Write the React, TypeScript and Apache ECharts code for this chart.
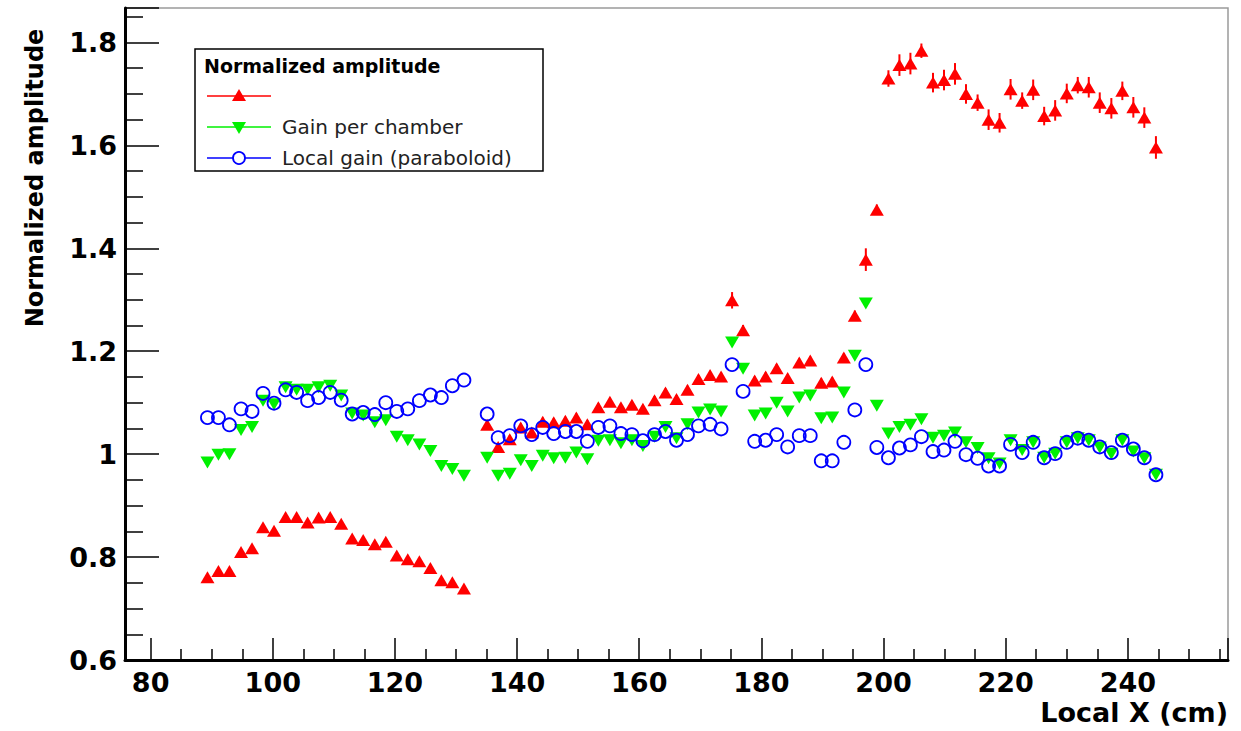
import React, { useEffect, useRef } from 'react';
import * as echarts from 'echarts';

// x positions (cm) of the measurement points
const localX = [
  89.3, 91.1, 92.9, 94.8, 96.6, 98.4, 100.2, 102.1, 103.9, 105.7, 107.5, 109.4,
  111.2, 113.0, 114.8, 116.7, 118.5, 120.3, 122.1, 124.0, 125.8, 127.6, 129.4, 131.3,
  135.1, 136.9, 138.8, 140.6, 142.4, 144.2, 146.0, 147.9, 149.7, 151.5, 153.3, 155.2,
  157.0, 158.8, 160.6, 162.5, 164.3, 166.1, 167.9, 169.7, 171.6, 173.4, 175.2, 177.0,
  178.9, 180.7, 182.5, 184.3, 186.2, 188.0, 189.8, 191.6, 193.5, 195.3, 197.1, 198.9,
  200.8, 202.6, 204.4, 206.2, 208.1, 209.9, 211.7, 213.5, 215.4, 217.2, 219.0, 220.8,
  222.7, 224.5, 226.3, 228.1, 230.0, 231.8, 233.6, 235.4, 237.3, 239.1, 240.9, 242.7, 244.6,
];

// red up-triangles (unnamed entry)
const rawAmplitude = [
  0.761, 0.773, 0.773, 0.810, 0.817, 0.858, 0.851, 0.878, 0.878, 0.867, 0.877, 0.878,
  0.865, 0.836, 0.833, 0.825, 0.830, 0.803, 0.796, 0.792, 0.779, 0.755, 0.751, 0.739,
  1.057, 1.014, 1.029, 1.052, 1.042, 1.063, 1.062, 1.065, 1.071, 1.058, 1.091, 1.102,
  1.091, 1.096, 1.088, 1.105, 1.120, 1.107, 1.125, 1.146, 1.154, 1.151, 1.299, 1.241,
  1.143, 1.151, 1.167, 1.148, 1.178, 1.182, 1.139, 1.141, 1.188, 1.269, 1.378, 1.475,
  1.730, 1.756, 1.759, 1.784, 1.722, 1.727, 1.739, 1.700, 1.683, 1.650, 1.644, 1.709,
  1.687, 1.708, 1.657, 1.668, 1.701, 1.717, 1.713, 1.683, 1.672, 1.706, 1.674, 1.654, 1.596,
];
const rawAmplitudeErr = [
  0.006, 0.006, 0.006, 0.006, 0.006, 0.006, 0.006, 0.006, 0.006, 0.006, 0.006, 0.006,
  0.006, 0.006, 0.006, 0.006, 0.006, 0.006, 0.006, 0.006, 0.006, 0.006, 0.006, 0.006,
  0.008, 0.008, 0.008, 0.008, 0.008, 0.008, 0.008, 0.008, 0.008, 0.008, 0.008, 0.008,
  0.008, 0.008, 0.008, 0.008, 0.008, 0.008, 0.008, 0.008, 0.008, 0.008, 0.016, 0.010,
  0.008, 0.008, 0.008, 0.008, 0.008, 0.008, 0.008, 0.008, 0.008, 0.010, 0.022, 0.010,
  0.016, 0.021, 0.021, 0.014, 0.019, 0.020, 0.021, 0.019, 0.016, 0.020, 0.019, 0.020,
  0.016, 0.020, 0.018, 0.020, 0.019, 0.016, 0.020, 0.020, 0.020, 0.018, 0.020, 0.020, 0.022,
];

// green down-triangles
const gainPerChamber = [
  0.984, 0.999, 1.000, 1.047, 1.053, 1.104, 1.097, 1.130, 1.125, 1.125, 1.130, 1.133,
  1.114, 1.079, 1.075, 1.062, 1.066, 1.034, 1.027, 1.019, 1.006, 0.977, 0.971, 0.958,
  0.993, 0.958, 0.962, 0.988, 0.977, 0.997, 0.992, 0.993, 1.003, 0.990, 1.026, 1.027,
  1.021, 1.027, 1.016, 1.034, 1.053, 1.031, 1.058, 1.081, 1.087, 1.083, 1.217, 1.166,
  1.075, 1.079, 1.100, 1.083, 1.110, 1.114, 1.070, 1.071, 1.120, 1.191, 1.293, 1.094,
  1.040, 1.053, 1.057, 1.068, 1.032, 1.036, 1.042, 1.023, 1.012, 0.992, 0.982, 1.027,
  1.008, 1.023, 0.993, 1.001, 1.023, 1.031, 1.027, 1.013, 1.001, 1.027, 1.005, 0.992, 0.960,
];

// blue open circles
const localGain = [
  1.071, 1.071, 1.057, 1.088, 1.083, 1.118, 1.099, 1.125, 1.120, 1.104, 1.110, 1.120,
  1.105, 1.078, 1.081, 1.077, 1.100, 1.083, 1.088, 1.104, 1.115, 1.110, 1.133, 1.144,
  1.078, 1.032, 1.036, 1.055, 1.038, 1.052, 1.040, 1.044, 1.044, 1.025, 1.052, 1.055,
  1.040, 1.038, 1.026, 1.038, 1.044, 1.027, 1.038, 1.055, 1.058, 1.049, 1.174, 1.122,
  1.025, 1.027, 1.038, 1.014, 1.036, 1.036, 0.987, 0.987, 1.023, 1.086, 1.174, 1.013,
  0.993, 1.012, 1.018, 1.034, 1.005, 1.008, 1.025, 0.999, 0.992, 0.977, 0.977, 1.019,
  1.003, 1.023, 0.993, 1.001, 1.023, 1.031, 1.027, 1.014, 1.003, 1.027, 1.010, 0.993, 0.960,
];

const xTickLabels = [80, 100, 120, 140, 160, 180, 200, 220, 240];
const yTickLabels = ['0.6', '0.8', '1', '1.2', '1.4', '1.6', '1.8'];
const legendTitle = 'Normalized amplitude';
const legendNames = ['', 'Gain per chamber', 'Local gain (paraboloid)'];
const xTitle = 'Local X (cm)';
const yTitle = 'Normalized amplitude';

const X_MIN = 75.8;
const X_MAX = 256.4;
const Y_MIN = 0.6;
const Y_MAX = 1.867;

const W = 1241;
const H = 731;
const GRID_LEFT = 125;
const GRID_RIGHT = 13;
const GRID_TOP = 8;
const GRID_BOTTOM = 71;

const FONT = '"DejaVu Sans", "Liberation Sans", Arial, sans-serif';

export default function App() {
  const ref = useRef<HTMLDivElement>(null);

  useEffect(() => {
    if (!ref.current) return;
    const chart = echarts.init(ref.current, undefined, { renderer: 'svg' });

    const pxPerUnit = (W - GRID_LEFT - GRID_RIGHT) / (X_MAX - X_MIN);
    const labelGridLeft = GRID_LEFT + (xTickLabels[0] - X_MIN) * pxPerUnit;

    const pts = (ys: number[]) => localX.map((x, i) => [x, ys[i]]);
    const redBars = localX.map((x, i) => [x, rawAmplitude[i] - rawAmplitudeErr[i], rawAmplitude[i] + rawAmplitudeErr[i]]);

    const lx0 = 207, lx1 = 271, lmx = 239;
    const rowY = [96, 127, 158];

    const option: any = {
      animation: false,
      backgroundColor: '#ffffff',
      grid: [
        { left: GRID_LEFT, right: GRID_RIGHT, top: GRID_TOP, bottom: GRID_BOTTOM, show: true, borderColor: '#9a9a9a', borderWidth: 1.5, backgroundColor: 'transparent', containLabel: false, outerBoundsMode: 'none' },
        { left: labelGridLeft, right: GRID_RIGHT, top: GRID_TOP, bottom: GRID_BOTTOM, show: false, containLabel: false, outerBoundsMode: 'none' },
      ],
      xAxis: [
        {
          type: 'value', gridIndex: 0, min: X_MIN, max: X_MAX,
          axisLine: { show: true, lineStyle: { color: '#000', width: 3 } },
          axisTick: { show: false }, axisLabel: { show: false }, splitLine: { show: false },
        },
        {
          type: 'value', gridIndex: 1, min: xTickLabels[0], max: X_MAX, interval: 20,
          axisLine: { show: false },
          axisTick: { show: true, inside: true, length: 22, lineStyle: { color: '#000', width: 1.5 } },
          minorTick: { show: true, splitNumber: 4, length: 11, lineStyle: { color: '#000', width: 1.5 } },
          axisLabel: {
            show: true, margin: 8, fontFamily: FONT, fontWeight: 'bold', fontSize: 27, lineHeight: 28, color: '#000',
            showMaxLabel: false,
            formatter: (v: number) => (xTickLabels.includes(Math.round(v)) && Math.abs(v - Math.round(v)) < 1e-6 ? String(Math.round(v)) : ''),
          },
          splitLine: { show: false },
        },
      ],
      yAxis: [
        {
          type: 'value', gridIndex: 0, min: Y_MIN, max: Y_MAX, interval: 0.2,
          axisLine: { show: true, lineStyle: { color: '#000', width: 3 } },
          axisTick: { show: true, inside: true, length: 34, lineStyle: { color: '#000', width: 1.5 } },
          minorTick: { show: true, splitNumber: 4, length: 18, lineStyle: { color: '#000', width: 1.5 } },
          axisLabel: {
            show: true, margin: 8, fontFamily: FONT, fontWeight: 'bold', fontSize: 27, color: '#000',
            showMaxLabel: false,
            formatter: (v: number) => {
              const s = String(Number(v.toFixed(2)));
              return yTickLabels.includes(s) ? s : '';
            },
          },
          splitLine: { show: false },
        },
        { type: 'value', gridIndex: 1, min: 0, max: 1, show: false },
      ],
      series: [
        {
          type: 'custom', xAxisIndex: 0, yAxisIndex: 0, z: 2,
          data: redBars,
          encode: { x: 0, y: [1, 2] },
          renderItem: (params: any, api: any) => {
            const x = api.value(0);
            const p1 = api.coord([x, api.value(1)]);
            const p2 = api.coord([x, api.value(2)]);
            return { type: 'line', shape: { x1: p1[0], y1: p1[1], x2: p2[0], y2: p2[1] }, style: { stroke: '#ff0000', lineWidth: 2 } };
          },
        },
        {
          type: 'scatter', name: legendNames[0], xAxisIndex: 0, yAxisIndex: 0, z: 3,
          data: pts(rawAmplitude), symbol: 'triangle', symbolSize: [14, 12],
          itemStyle: { color: '#ff0000', opacity: 1 },
        },
        {
          type: 'scatter', name: legendNames[1], xAxisIndex: 0, yAxisIndex: 0, z: 4,
          data: pts(gainPerChamber), symbol: 'triangle', symbolSize: [14, 12], symbolRotate: 180,
          itemStyle: { color: '#00f000', opacity: 1 },
        },
        {
          type: 'scatter', name: legendNames[2], xAxisIndex: 0, yAxisIndex: 0, z: 5,
          data: pts(localGain), symbol: 'circle', symbolSize: 13,
          itemStyle: { color: 'rgba(0,0,0,0)', borderColor: '#0000ff', borderWidth: 1.8, opacity: 1 },
        },
      ],
      graphic: [
        {
          type: 'text', x: 35, y: 178, rotation: Math.PI / 2,
          style: { text: yTitle, font: `bold 24px ${FONT}`, fill: '#000', align: 'center', verticalAlign: 'middle' },
        },
        {
          type: 'text', x: W - GRID_RIGHT, y: 712,
          style: { text: xTitle, font: `bold 27px ${FONT}`, fill: '#000', align: 'right', verticalAlign: 'middle' },
        },
        {
          type: 'group', z: 100,
          children: [
            { type: 'rect', shape: { x: 195, y: 49, width: 348, height: 122 }, style: { fill: '#fff', stroke: '#000', lineWidth: 1.5 } },
            { type: 'text', x: 204, y: 66, style: { text: legendTitle, font: `bold 19px ${FONT}`, fill: '#000', verticalAlign: 'middle' } },
            { type: 'line', shape: { x1: lx0, y1: rowY[0], x2: lx1, y2: rowY[0] }, style: { stroke: '#ff0000', lineWidth: 1.5 } },
            { type: 'polygon', shape: { points: [[lmx - 7, rowY[0] + 5], [lmx + 7, rowY[0] + 5], [lmx, rowY[0] - 7]] }, style: { fill: '#ff0000' } },
            { type: 'text', x: 282, y: rowY[0], style: { text: legendNames[0], font: `20px ${FONT}`, fill: '#222', verticalAlign: 'middle' } },
            { type: 'line', shape: { x1: lx0, y1: rowY[1], x2: lx1, y2: rowY[1] }, style: { stroke: '#00f000', lineWidth: 1.5 } },
            { type: 'polygon', shape: { points: [[lmx - 7, rowY[1] - 5], [lmx + 7, rowY[1] - 5], [lmx, rowY[1] + 7]] }, style: { fill: '#00f000' } },
            { type: 'text', x: 282, y: rowY[1], style: { text: legendNames[1], font: `20px ${FONT}`, fill: '#222', verticalAlign: 'middle' } },
            { type: 'line', shape: { x1: lx0, y1: rowY[2], x2: lx1, y2: rowY[2] }, style: { stroke: '#0000ff', lineWidth: 1.5 } },
            { type: 'circle', shape: { cx: lmx, cy: rowY[2], r: 6 }, style: { fill: '#fff', stroke: '#0000ff', lineWidth: 1.8 } },
            { type: 'text', x: 282, y: rowY[2], style: { text: legendNames[2], font: `20px ${FONT}`, fill: '#222', verticalAlign: 'middle' } },
          ],
        },
      ],
    };

    chart.setOption(option);
    return () => chart.dispose();
  }, []);

  return (
    <div
      ref={ref}
      style={{ position: 'fixed', left: 0, top: 0, width: W, height: H, background: '#fff' }}
    />
  );
}
